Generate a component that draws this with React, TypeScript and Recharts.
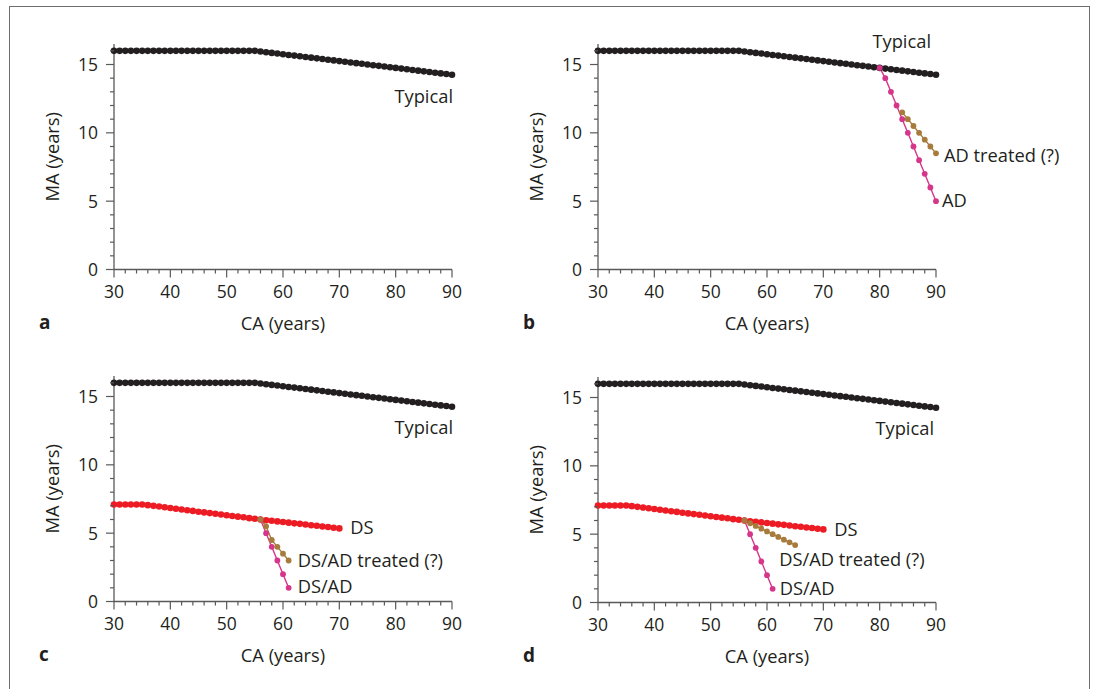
import React from "react";
import { LineChart, Line, XAxis, YAxis } from "recharts";

const FONT = '"Open Sans", "Noto Sans", sans-serif';
const INK = "#231f20";
const AXIS = "#58595b";
const BLACK = "#231f20";
const RED = "#ed1c24";
const PINK = "#d6368a";
const BROWN = "#a67b3b";

// axis ticks (major every 10 / 5, minor in between)
const caTicks = [30, 32, 34, 36, 38, 40, 42, 44, 46, 48, 50, 52, 54, 56, 58, 60, 62, 64, 66, 68, 70, 72, 74, 76, 78, 80, 82, 84, 86, 88, 90];
const maTicks = [0, 1, 2, 3, 4, 5, 6, 7, 8, 9, 10, 11, 12, 13, 14, 15, 16];

// mental age by chronological age, one value per year
const typicalStart = 30;
const typicalMA = [
  16, 16, 16, 16, 16, 16, 16, 16, 16, 16, 16, 16, 16, 16, 16, 16, 16, 16, 16, 16, 16, 16, 16, 16, 16, 16,
  15.95, 15.9, 15.85, 15.8, 15.75, 15.7, 15.65, 15.6, 15.55, 15.5, 15.45, 15.4, 15.35, 15.3, 15.25,
  15.2, 15.15, 15.1, 15.05, 15.0, 14.95, 14.9, 14.85, 14.8, 14.75, 14.7, 14.65, 14.6, 14.55, 14.5,
  14.45, 14.4, 14.35, 14.3, 14.25,
];

const dsStart = 30;
const dsMA = [
  7.1, 7.1, 7.1, 7.1, 7.1, 7.1, 7.05, 7.0, 6.95, 6.9, 6.84, 6.79, 6.73, 6.68, 6.63, 6.57, 6.52, 6.47,
  6.42, 6.37, 6.31, 6.26, 6.21, 6.16, 6.1, 6.05, 6.0, 5.95, 5.91, 5.86, 5.82, 5.77, 5.72, 5.68, 5.63,
  5.58, 5.54, 5.49, 5.45, 5.4, 5.35,
];

const adStart = 80;
const adMA = [14.75, 14, 13, 12, 11, 10, 9, 8, 7, 6, 5];

const adTreatedStart = 84;
const adTreatedMA = [11.5, 11, 10.5, 10, 9.5, 9, 8.5];

const dsAdStart = 56;
const dsAdMA = [6, 5, 4, 3, 2, 1];

const dsAdTreatedStart = 56;
const dsAdTreatedMA = [6, 5.5, 4.5, 4, 3.5, 3];

const dsAdTreatedSlowStart = 56;
const dsAdTreatedSlowMA = [6, 5.8, 5.6, 5.4, 5.2, 5.0, 4.8, 4.6, 4.4, 4.2];

type Pt = { ca: number; ma: number };
const toPoints = (start: number, values: number[]): Pt[] =>
  values.map((ma, i) => ({ ca: start + i, ma }));

type Tag = { text: string; dx: number; dy: number; anchor?: "start" | "end" };
type Series = { key: string; points: Pt[]; color: string; r: number; width: number; tag: Tag };

// plot is 338px wide; extra room on the right keeps end labels inside the svg
const PLOT_LEFT = 114;
const PLOT_W = 338;
const CHART_W = 600;
const CHART_H = 345;

// text placed next to the last point of a series
const endTag = (tag: Tag, count: number) => (props: any) => {
  if (props.index !== count - 1) return null;
  const vb = props.viewBox || {};
  const x = Number(vb.x ?? props.x);
  const y = Number(vb.y ?? props.y);
  return (
    <text
      x={x + tag.dx}
      y={y + tag.dy}
      textAnchor={tag.anchor ?? "start"}
      fontFamily={FONT}
      fontSize={18.3}
      fill={INK}
    >
      {tag.text}
    </text>
  );
};

function CaTick(props: any) {
  const { x, y, payload } = props;
  const major = payload.value % 10 === 0;
  return (
    <g>
      <line x1={x} x2={x} y1={y} y2={y + (major ? 8 : 4)} stroke={AXIS} strokeWidth={1.2} />
      {major && (
        <text x={x} y={y + 28.5} textAnchor="middle" fontFamily={FONT} fontSize={17.5} fill={INK}>
          {payload.value}
        </text>
      )}
    </g>
  );
}

function MaTick(props: any) {
  const { x, y, payload } = props;
  const major = payload.value % 5 === 0;
  return (
    <g>
      <line x1={x} x2={x - (major ? 8 : 4)} y1={y} y2={y} stroke={AXIS} strokeWidth={1.2} />
      {major && (
        <text x={x - 16} y={y + 6.5} textAnchor="end" fontFamily={FONT} fontSize={17.5} fill={INK}>
          {payload.value}
        </text>
      )}
    </g>
  );
}

function Panel({ letter, left, top, series }: { letter: string; left: number; top: number; series: Series[] }) {
  return (
    <>
      <div style={{ position: "absolute", left, top }}>
        <LineChart
          width={CHART_W}
          height={CHART_H}
          margin={{ top: 44, right: CHART_W - PLOT_LEFT - PLOT_W, bottom: 5, left: 0 }}
        >
          <XAxis
            type="number"
            dataKey="ca"
            domain={[30, 90]}
            ticks={caTicks}
            interval={0}
            height={70.5}
            tickSize={0}
            tickMargin={0}
            tickLine={false}
            axisLine={{ stroke: AXIS, strokeWidth: 1.3 }}
            tick={CaTick}
            label={{ value: "CA (years)", position: "insideBottom", offset: 10, fill: INK, fontSize: 18.3, fontFamily: FONT }}
          />
          <YAxis
            type="number"
            dataKey="ma"
            domain={[0, 16.5]}
            ticks={maTicks}
            interval={0}
            width={PLOT_LEFT}
            tickSize={0}
            tickMargin={0}
            tickLine={false}
            axisLine={{ stroke: AXIS, strokeWidth: 1.3 }}
            tick={MaTick}
            label={{
              value: "MA (years)",
              angle: -90,
              position: "insideLeft",
              offset: 53,
              fill: INK,
              fontSize: 18.3,
              fontFamily: FONT,
              style: { textAnchor: "middle" },
            }}
          />
          {series.map((s) => (
            <Line
              key={s.key}
              data={s.points}
              dataKey="ma"
              type="linear"
              stroke={s.color}
              strokeWidth={s.width}
              dot={{ r: s.r, fill: s.color, stroke: "none", strokeWidth: 0 }}
              activeDot={false}
              isAnimationActive={false}
              label={endTag(s.tag, s.points.length)}
            />
          ))}
        </LineChart>
      </div>
      <div
        style={{
          position: "absolute",
          left: left + 39,
          top: top + 313,
          fontFamily: FONT,
          fontWeight: 700,
          fontSize: 19,
          lineHeight: 1,
          color: INK,
        }}
      >
        {letter}
      </div>
    </>
  );
}

const typical = (tag: Tag): Series => ({
  key: "typical",
  points: toPoints(typicalStart, typicalMA),
  color: BLACK,
  r: 3.3,
  width: 2,
  tag,
});

const ds = (tag: Tag): Series => ({
  key: "ds",
  points: toPoints(dsStart, dsMA),
  color: RED,
  r: 3.3,
  width: 2,
  tag,
});

const panelA: Series[] = [typical({ text: "Typical", dx: 1, dy: 28, anchor: "end" })];

const panelB: Series[] = [
  typical({ text: "Typical", dx: -5, dy: -27, anchor: "end" }),
  { key: "ad", points: toPoints(adStart, adMA), color: PINK, r: 2.9, width: 1.4, tag: { text: "AD", dx: 6, dy: 6 } },
  {
    key: "adTreated",
    points: toPoints(adTreatedStart, adTreatedMA),
    color: BROWN,
    r: 2.9,
    width: 1.4,
    tag: { text: "AD treated (?)", dx: 8, dy: 9 },
  },
];

const panelC: Series[] = [
  typical({ text: "Typical", dx: 1, dy: 27, anchor: "end" }),
  ds({ text: "DS", dx: 11, dy: 6 }),
  { key: "dsAd", points: toPoints(dsAdStart, dsAdMA), color: PINK, r: 2.9, width: 1.4, tag: { text: "DS/AD", dx: 9, dy: 5 } },
  {
    key: "dsAdTreated",
    points: toPoints(dsAdTreatedStart, dsAdTreatedMA),
    color: BROWN,
    r: 2.9,
    width: 1.4,
    tag: { text: "DS/AD treated (?)", dx: 9, dy: 6 },
  },
];

const panelD: Series[] = [
  typical({ text: "Typical", dx: -2, dy: 27, anchor: "end" }),
  ds({ text: "DS", dx: 11, dy: 7 }),
  { key: "dsAd", points: toPoints(dsAdStart, dsAdMA), color: PINK, r: 2.9, width: 1.4, tag: { text: "DS/AD", dx: 7, dy: 6 } },
  {
    key: "dsAdTreated",
    points: toPoints(dsAdTreatedSlowStart, dsAdTreatedSlowMA),
    color: BROWN,
    r: 2.9,
    width: 1.4,
    tag: { text: "DS/AD treated (?)", dx: -16, dy: 21 },
  },
];

export default function App() {
  return (
    <div
      style={{
        position: "absolute",
        left: 0,
        top: 0,
        width: 1096,
        height: 689,
        background: "#fff",
        overflow: "hidden",
      }}
    >
      <div
        style={{
          position: "absolute",
          left: 9,
          top: 6,
          width: 1079,
          height: 720,
          border: "1.5px solid #6d6e71",
          borderBottom: "none",
        }}
      />
      <Panel letter="a" left={0} top={0} series={panelA} />
      <Panel letter="b" left={484} top={0} series={panelB} />
      <Panel letter="c" left={0} top={332} series={panelC} />
      <Panel letter="d" left={484} top={333} series={panelD} />
    </div>
  );
}
